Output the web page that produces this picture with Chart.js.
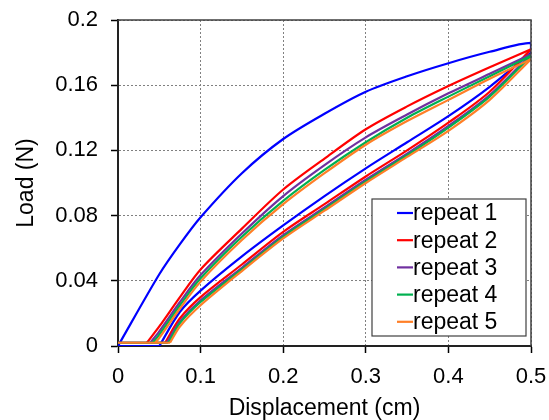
<!DOCTYPE html>
<html>
<head>
<meta charset="utf-8">
<script src="https://cdn.jsdelivr.net/npm/chart.js@4/dist/chart.umd.min.js"></script>
<style>
  html, body { margin: 0; padding: 0; background: #fff; }
  #wrap { width: 549px; height: 420px; }
</style>
</head>
<body>
<div id="wrap"><canvas id="loadChart"></canvas></div>
<script>
// repeats of the load/unload test
const repeatNames = ['repeat 1', 'repeat 2', 'repeat 3', 'repeat 4', 'repeat 5'];
const repeatColors = ['#0000ff', '#ff0000', '#7030a0', '#00b050', '#ff7f27'];

// displacement (cm) where each branch is sampled
const loadDisp = [0.05, 0.075, 0.1, 0.15, 0.2, 0.25, 0.3, 0.35, 0.4, 0.45, 0.5];
const unloadDisp = [0.5, 0.45, 0.4, 0.35, 0.3, 0.25, 0.2, 0.15, 0.1, 0.075];
const startDisp = [0, 0.035, 0.039, 0.042, 0.045];
const endDisp = [0.05, 0.057, 0.059, 0.061, 0.063];
const baseLoad = [0, 0.002, 0.002, 0.002, 0.002];

// load (N) on the loading branch
const load1 = [0.044, 0.0625, 0.079, 0.106, 0.127, 0.1425, 0.156, 0.1655, 0.1735, 0.1805, 0.186];
const load2 = [0.012, 0.030, 0.047, 0.072, 0.096, 0.115, 0.133, 0.147, 0.1595, 0.171, 0.182];
const load3 = [0.009, 0.027, 0.0435, 0.069, 0.092, 0.111, 0.128, 0.142, 0.155, 0.167, 0.179];
const load4 = [0.007, 0.025, 0.0415, 0.067, 0.089, 0.108, 0.125, 0.140, 0.153, 0.1655, 0.178];
const load5 = [0.005, 0.023, 0.0395, 0.065, 0.087, 0.106, 0.1235, 0.138, 0.151, 0.164, 0.176];

// load (N) on the unloading branch
const unload1 = [0.180, 0.159, 0.141, 0.125, 0.109, 0.092, 0.074, 0.055, 0.034, 0.021];
const unload2 = [0.182, 0.156, 0.137, 0.120, 0.104, 0.087, 0.070, 0.050, 0.030, 0.017];
const unload3 = [0.179, 0.154, 0.135, 0.118, 0.102, 0.085, 0.068, 0.048, 0.028, 0.015];
const unload4 = [0.178, 0.153, 0.134, 0.117, 0.101, 0.084, 0.067, 0.047, 0.027, 0.014];
const unload5 = [0.176, 0.151, 0.132, 0.116, 0.100, 0.083, 0.066, 0.046, 0.025, 0.012];

const xTicks = [0, 0.1, 0.2, 0.3, 0.4, 0.5];
const yTicks = [0, 0.04, 0.08, 0.12, 0.16, 0.2];

const loadSets = [load1, load2, load3, load4, load5];
const unloadSets = [unload1, unload2, unload3, unload4, unload5];

const FONT = '"Liberation Sans", Arial, sans-serif';

const datasets = [];
function addLine(pts, i, tension) {
  datasets.push({
    label: repeatNames[i],
    data: pts,
    showLine: true,
    borderColor: repeatColors[i],
    borderWidth: 2.2,
    pointRadius: 0,
    tension: tension,
    order: 5 - i
  });
}

repeatNames.forEach((name, i) => {
  // flat part before the probe picks up load
  addLine([
    { x: 0, y: baseLoad[i] },
    { x: Math.max(startDisp[i], endDisp[i]), y: baseLoad[i] }
  ], i, 0);

  const up = [{ x: startDisp[i], y: baseLoad[i] }];
  loadDisp.forEach((d, k) => up.push({ x: d, y: loadSets[i][k] }));
  if (loadSets[i][loadSets[i].length - 1] !== unloadSets[i][0]) {
    up.push({ x: 0.5, y: unloadSets[i][0] });
  }
  addLine(up, i, 0.3);

  const down = [];
  unloadDisp.forEach((d, k) => down.push({ x: d, y: unloadSets[i][k] }));
  down.push({ x: endDisp[i], y: baseLoad[i] });
  addLine(down, i, 0.3);
});

// box around the plot + legend inside it
const frameAndLegend = {
  id: 'frameAndLegend',
  afterDraw(chart) {
    const { ctx, chartArea: a } = chart;
    ctx.save();
    ctx.strokeStyle = '#404040';
    ctx.lineWidth = 1.5;
    ctx.beginPath();
    ctx.moveTo(a.left, a.top);
    ctx.lineTo(a.right, a.top);
    ctx.lineTo(a.right, a.bottom);
    ctx.stroke();

    const w = 154, h = 137;
    const bx = a.right - 5 - w, by = a.bottom - 10 - h;
    ctx.fillStyle = '#fff';
    ctx.fillRect(bx, by, w, h);
    ctx.strokeStyle = '#404040';
    ctx.lineWidth = 1.2;
    ctx.strokeRect(bx, by, w, h);

    ctx.font = '23px ' + FONT;
    ctx.textBaseline = 'middle';
    ctx.textAlign = 'left';
    repeatNames.forEach((name, i) => {
      const y = by + 14 + i * 27.2;
      ctx.strokeStyle = repeatColors[i];
      ctx.lineWidth = 2.2;
      ctx.beginPath();
      ctx.moveTo(bx + 25, y);
      ctx.lineTo(bx + 41, y);
      ctx.stroke();
      ctx.fillStyle = '#000';
      ctx.fillText(name, bx + 41, y + 1);
    });
    ctx.restore();
  }
};

const tickFont = { family: FONT, size: 22 };
const titleFont = { family: FONT, size: 23, lineHeight: 1 };

const gridOpts = {
  color: '#808080',
  lineWidth: 1,
  tickColor: '#000',
  tickWidth: 1.5,
  tickLength: 7
};

// keep the plot box fixed: no extra room for overhanging labels
function noOverhang(s) {
  s.paddingTop = 0;
  s.paddingBottom = 0;
  s.paddingLeft = 0;
  s.paddingRight = 0;
}

new Chart(document.getElementById('loadChart').getContext('2d'), {
  type: 'scatter',
  data: { datasets },
  options: {
    responsive: true,
    maintainAspectRatio: false,
    animation: false,
    layout: { padding: { top: 20, right: 18, bottom: 0, left: 0 } },
    plugins: { legend: { display: false }, tooltip: { enabled: false } },
    scales: {
      x: {
        type: 'linear',
        min: 0,
        max: 0.5,
        afterBuildTicks: s => { s.ticks = xTicks.map(v => ({ value: v })); },
        afterFit: s => { s.height = 74; noOverhang(s); },
        ticks: {
          color: '#000',
          font: tickFont,
          padding: 11,
          maxRotation: 0,
          callback: v => String(v)
        },
        grid: gridOpts,
        border: { color: '#222', width: 2, dash: [2, 2] },
        title: {
          display: true,
          text: 'Displacement (cm)',
          color: '#000',
          font: titleFont,
          padding: { top: 0, bottom: 0 }
        }
      },
      y: {
        type: 'linear',
        min: 0,
        max: 0.2,
        afterBuildTicks: s => { s.ticks = yTicks.map(v => ({ value: v })); },
        afterFit: s => { s.width = 118; noOverhang(s); },
        ticks: {
          color: '#000',
          font: tickFont,
          padding: 13,
          callback: v => String(v)
        },
        grid: gridOpts,
        border: { color: '#222', width: 2, dash: [2, 2] },
        title: {
          display: true,
          text: 'Load (N)',
          color: '#000',
          font: titleFont,
          padding: { top: 15, bottom: 0 }
        }
      }
    }
  },
  plugins: [frameAndLegend]
});
</script>
</body>
</html>
